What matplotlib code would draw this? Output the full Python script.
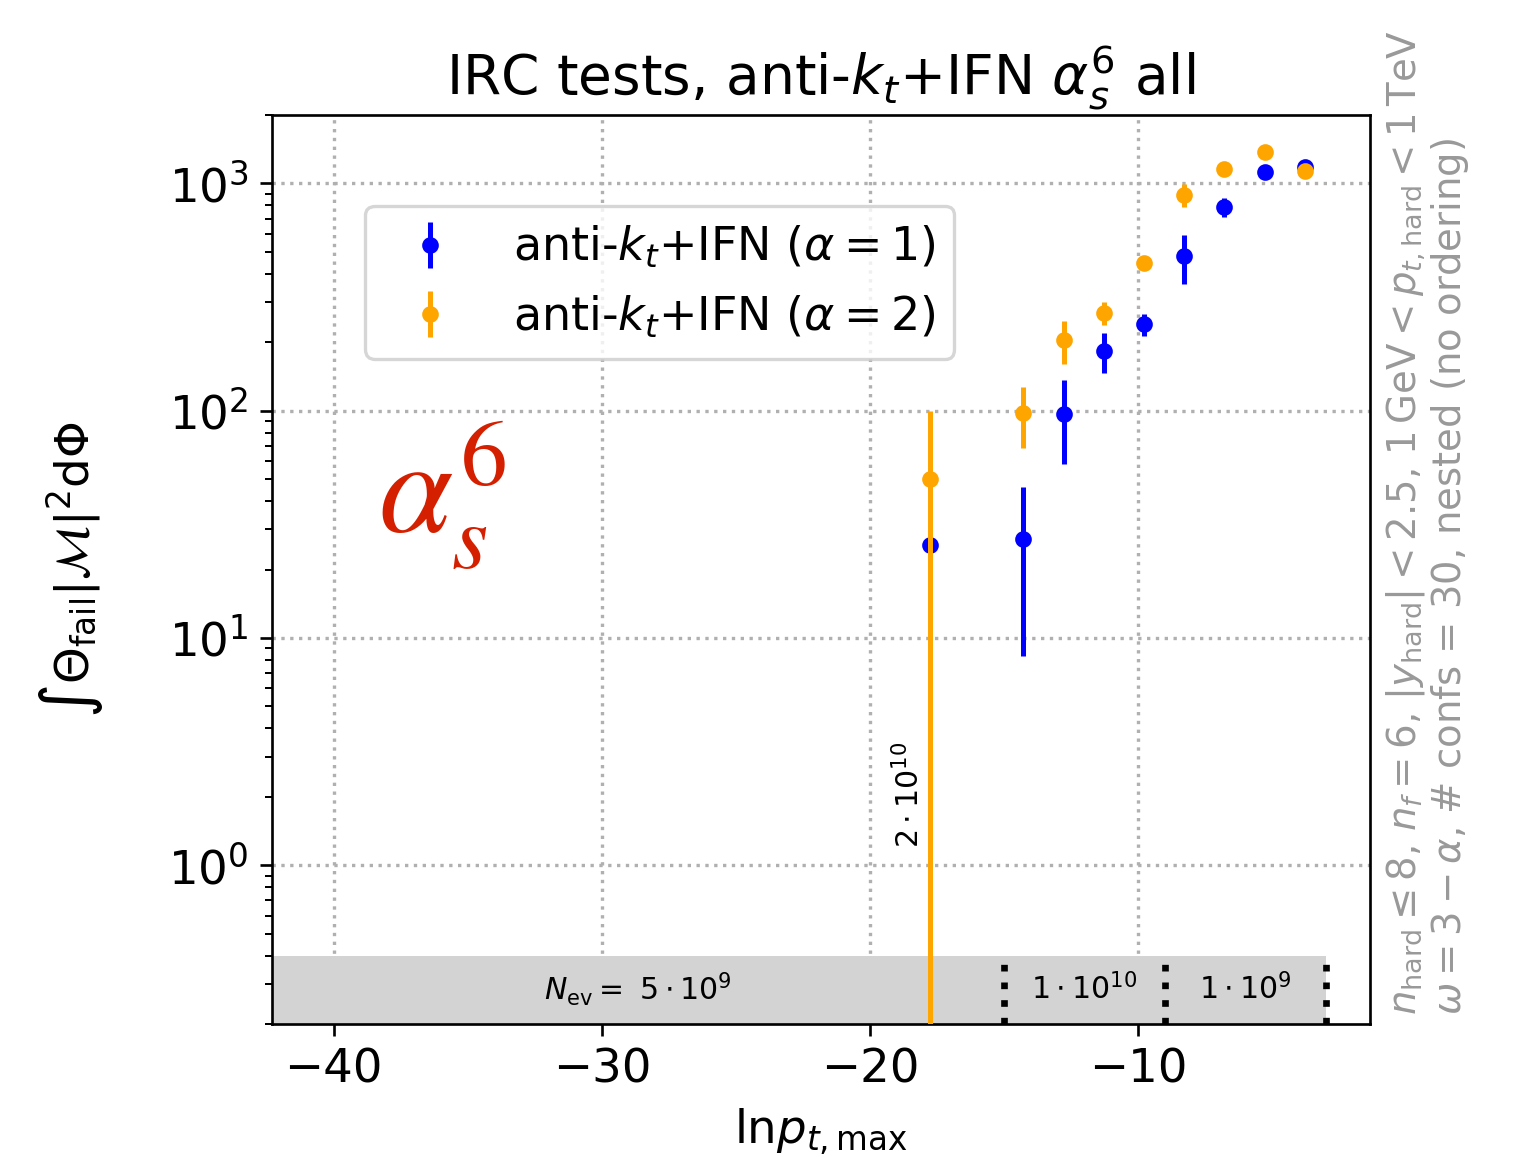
import matplotlib
matplotlib.use("Agg")
import matplotlib.pyplot as plt
import numpy as np

# ln(pt_max) positions of the bins
lnpt = [-17.76, -14.28, -12.78, -11.28, -9.78, -8.28, -6.78, -5.28, -3.78]

# alpha = 1 (blue)
val_a1 = [25.7, 27.3, 97.0, 183.0, 240.0, 478.0, 787.0, 1125.0, 1179.0]
err_a1 = [25.7, 19.0, 39.0, 36.0, 27.0, 116.0, 73.0, 25.0, 25.0]

# alpha = 2 (orange)
val_a2 = [50.0, 97.7, 204.0, 270.0, 447.0, 892.0, 1160.0, 1372.0, 1129.0]
err_a2 = [50.0, 29.0, 44.0, 31.0, 12.0, 103.0, 25.0, 25.0, 25.0]

# event-count regions along the bottom
region_edges = [-42.3, -15.0, -9.0, -3.0]
region_labels = [r"$N_\mathrm{ev} =\ 5\cdot 10^9$", r"$1\cdot 10^{10}$", r"$1\cdot 10^{9}$"]

fig = plt.figure(figsize=(1518 / 240, 1158 / 240), dpi=240)
ax = fig.add_axes([0.1792, 0.1157, 0.7233, 0.7850])

ax.set_yscale("log")
ax.set_xlim(-42.3, -1.35)
ax.set_ylim(0.2, 2000)

ax.grid(True, which="major", linestyle=":", color="#b0b0b0", linewidth=1.0)
ax.set_axisbelow(True)

# grey band with event counts
ax.fill_between([region_edges[0], region_edges[-1]], 0.2, 0.4, color="lightgrey", zorder=1, linewidth=0)
for xe in region_edges[1:]:
    ax.plot([xe, xe], [0.2, 0.4], color="black", linestyle=":", linewidth=2, zorder=2)
for i, lab in enumerate(region_labels):
    xc = 0.5 * (region_edges[i] + region_edges[i + 1])
    ax.text(xc, 0.285, lab, ha="center", va="center", fontsize=9, zorder=3)

ax.text(-18.55, 2.03, r"$2\cdot 10^{10}$", rotation=90, ha="center", va="center", fontsize=9)

ax.errorbar(lnpt, val_a1, yerr=err_a1, fmt="o", color="blue", markersize=4,
            label=r"anti-$k_t$+IFN ($\alpha=1$)", zorder=4)
ax.errorbar(lnpt, val_a2, yerr=err_a2, fmt="o", color="orange", markersize=4,
            label=r"anti-$k_t$+IFN ($\alpha=2$)", zorder=5)

ax.text(-38.35, 29, r"$\alpha_s^6$", color="#d42000", fontsize=40, ha="left", va="baseline",
        math_fontfamily="stix")

ax.legend(loc="upper left", bbox_to_anchor=(0.085, 0.9), borderaxespad=0, fontsize=13.8)

ax.set_title(r"IRC tests, anti-$k_t$+IFN $\alpha_s^6$ all", fontsize=16.5)
ax.set_xlabel(r"$\mathrm{ln}p_{t,\mathrm{max}}$", fontsize=14)
ax.set_ylabel(r"$\int \Theta_\mathrm{fail} |\mathcal{M}|^2 \mathrm{d}\Phi$", fontsize=14, labelpad=19)
ax.tick_params(labelsize=14)

ax.text(1.013, 0.01,
        r"$n_\mathrm{hard} \leq 8$, $n_f = 6$, $|y_\mathrm{hard}| < 2.5$, $1\,\mathrm{GeV} < p_{t,\mathrm{hard}} < 1\,\mathrm{TeV}$"
        "\n"
        r"$\omega = 3-\alpha$, # confs = 30, nested (no ordering)",
        transform=ax.transAxes, rotation=90, ha="left", va="bottom", multialignment="left",
        linespacing=1.05, color="#999999", fontsize=11.6)

fig.savefig("out.png", dpi=240)
